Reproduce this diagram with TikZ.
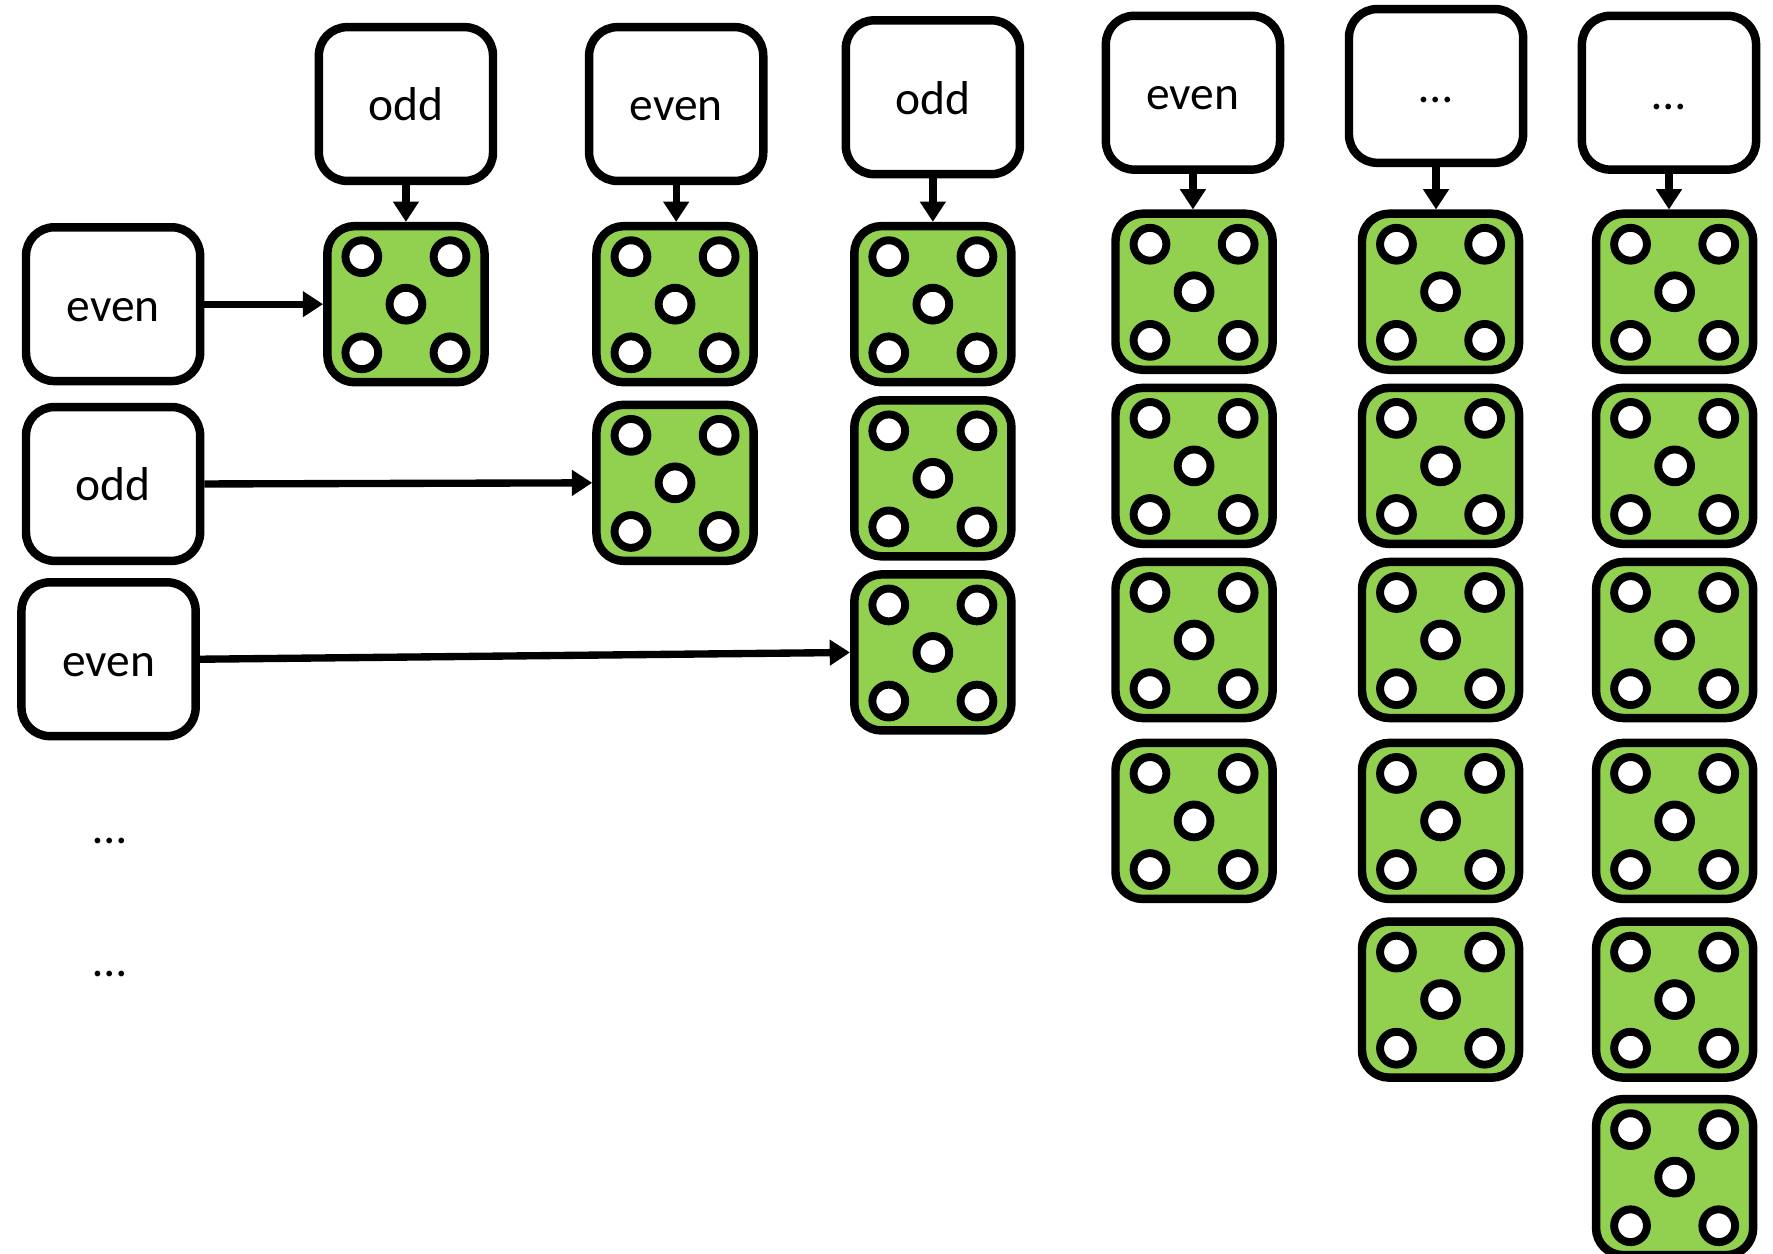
\documentclass[tikz,border=0pt]{standalone}
\usepackage{fontspec}
\setmainfont{Carlito}
\usetikzlibrary{arrows.meta}
\definecolor{dicegreen}{HTML}{92D050}
\tikzset{
  lbox/.style={draw=black, line width=7.5pt, rounded corners=25pt, fill=white,
    minimum width=154pt, minimum height=136pt, inner sep=0pt,
    text height=30pt, text depth=0pt,
    font=\fontsize{42pt}{48pt}\selectfont},
  diebox/.style={draw=black, line width=7.5pt, rounded corners=24pt, fill=dicegreen,
    minimum width=139pt, minimum height=138pt, inner sep=0pt},
  pip/.style={draw=black, line width=7pt, fill=white},
  conn/.style={line width=6.5pt, -{Triangle[length=18pt,width=22pt]}},
  dots/.style={font=\fontsize{42pt}{48pt}\selectfont, inner sep=0pt}
}
\newcommand{\mydie}[3]{%
  \node[diebox] (#1) at (#2,#3) {};
  \foreach \dx/\dy in {-39/-42, 39/-42, 0/0, -39/43, 39/43}
    \draw[pip] (#2+\dx,#3+\dy) circle[radius=14.5pt];
}
\begin{document}
\begin{tikzpicture}[x=1pt,y=-1pt]
\useasboundingbox (0,0) rectangle (1568,1109);
% top boxes
\node[lbox] (T1) at (359,92) {odd};
\node[lbox] (T2) at (598,92) {even};
\node[lbox] (T3) at (825,86) {odd};
\node[lbox] (T4) at (1055,82) {even};
\node[lbox] (T5) at (1270,76) {…};
\node[lbox] (T6) at (1476,82) {…};
% left boxes
\node[lbox] (L1) at (100,269) {even};
\node[lbox] (L2) at (100,428) {odd};
\node[lbox] (L3) at (96,583) {even};
\node[dots] (E1) at (97,744) {…};
\node[dots] (E2) at (97,861) {…};
% dice
\mydie{d11}{359}{269}
\mydie{d21}{597}{269}
\mydie{d22}{597}{427}
\mydie{d31}{825}{269}
\mydie{d32}{825}{423}
\mydie{d33}{825}{577}
\mydie{d41}{1056}{258}
\mydie{d42}{1056}{412}
\mydie{d43}{1056}{566}
\mydie{d44}{1056}{726}
\mydie{d51}{1274}{258}
\mydie{d52}{1274}{412}
\mydie{d53}{1274}{566}
\mydie{d54}{1274}{726}
\mydie{d55}{1274}{884}
\mydie{d61}{1481}{258}
\mydie{d62}{1481}{412}
\mydie{d63}{1481}{566}
\mydie{d64}{1481}{726}
\mydie{d65}{1481}{884}
\mydie{d66}{1481}{1041}
% connectors
\draw[conn] (T1.south) -- (T1.south |- d11.north);
\draw[conn] (T2.south) -- (T2.south |- d21.north);
\draw[conn] (T3.south) -- (T3.south |- d31.north);
\draw[conn] (T4.south) -- (T4.south |- d41.north);
\draw[conn] (T5.south) -- (T5.south |- d51.north);
\draw[conn] (T6.south) -- (T6.south |- d61.north);
\draw[conn] (L1.east) -- (d11.west);
\draw[conn] (L2.east) -- (d22.west);
\draw[conn] (L3.east) -- (d33.west);
\end{tikzpicture}
\end{document}
